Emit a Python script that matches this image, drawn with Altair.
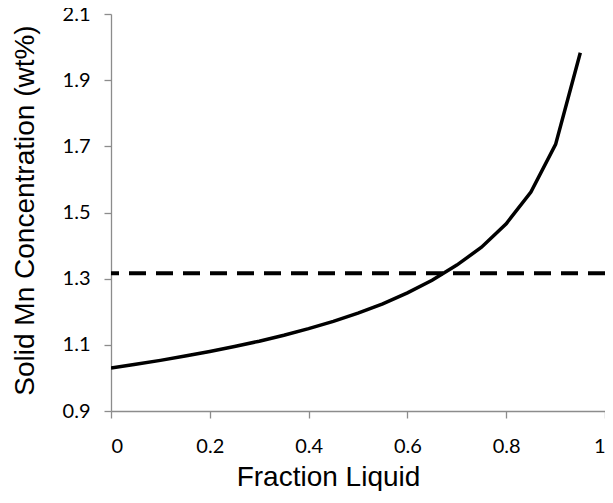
import altair as alt
import pandas as pd

# Fraction liquid (x) and solid Mn concentration (wt%)
fraction = [0.0, 0.05, 0.10, 0.15, 0.20, 0.25, 0.30, 0.35, 0.40, 0.45,
            0.50, 0.55, 0.60, 0.65, 0.70, 0.75, 0.80, 0.85, 0.90, 0.95]
concentration = [1.030, 1.041, 1.053, 1.066, 1.080, 1.095, 1.111, 1.129, 1.149, 1.171,
                 1.196, 1.224, 1.257, 1.295, 1.341, 1.395, 1.466, 1.562, 1.706, 1.983]
nominal_level = [1.316]
x_ticks = [0, 0.2, 0.4, 0.6, 0.8, 1.0]
y_ticks = [0.9, 1.1, 1.3, 1.5, 1.7, 1.9, 2.1]

df = pd.DataFrame({"x": fraction, "y": concentration})
ref = pd.DataFrame({"y": nominal_level})

x_scale = alt.Scale(domain=[0, 1], nice=False, zero=False)
y_scale = alt.Scale(domain=[0.9, 2.1], nice=False, zero=False)

line = alt.Chart(df).mark_line(color="black", strokeWidth=3.5, clip=True).encode(
    x=alt.X("x:Q", scale=x_scale,
            axis=alt.Axis(title="Fraction Liquid", values=x_ticks, format="~g",
                          labelPadding=18,
                          titleX=217, titleY=74, titleBaseline="alphabetic",
                          titleAlign="center", titleAnchor="start")),
    y=alt.Y("y:Q", scale=y_scale,
            axis=alt.Axis(title="Solid Mn Concentration (wt%)", values=y_ticks, format=".1f",
                          labelPadding=14,
                          titleX=-86, titleY=196, titleBaseline="middle",
                          titleAlign="center", titleAnchor="start", titleAngle=-90)),
)

rule = alt.Chart(ref).mark_rule(color="black", strokeWidth=4, strokeDash=[17, 10]).encode(
    y=alt.Y("y:Q", scale=y_scale)
)

chart = alt.layer(line, rule).properties(
    width=494, height=397,
    autosize=alt.AutoSizeParams(type="none"),
    padding={"left": 103, "top": 6, "right": 0, "bottom": 80},
).configure_view(stroke=None).configure_axis(
    grid=False,
    domainColor="#8c8c8c",
    domainWidth=1.3,
    tickColor="#8c8c8c",
    tickWidth=1.3,
    tickSize=7,
    labelFont="Lato",
    labelFontSize=20,
    labelColor="black",
    titleFont="Liberation Sans",
    titleFontSize=28,
    titleFontWeight="normal",
    titleColor="black",
)

chart.save("out.html", embed_options={"renderer": "svg", "actions": False})
